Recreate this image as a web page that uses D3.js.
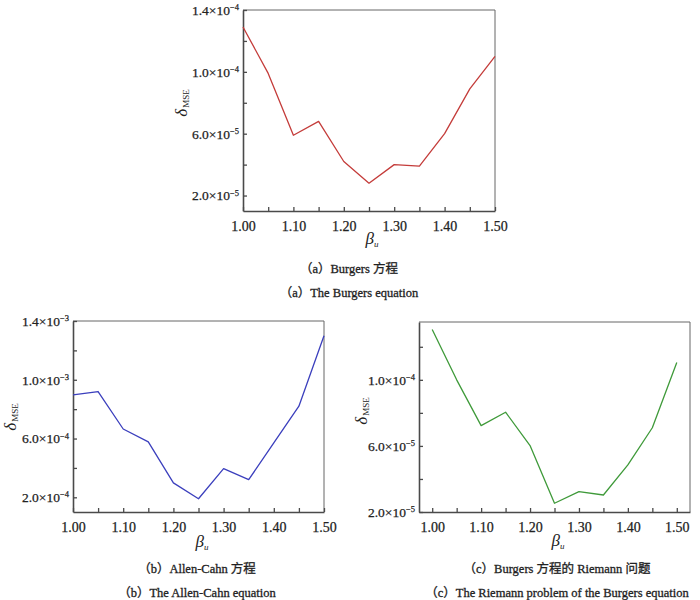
<!DOCTYPE html>
<html>
<head>
<meta charset="utf-8">
<script src="https://cdn.jsdelivr.net/npm/d3@7"></script>
<style>
  body { margin: 0; background: #fff; }
  svg text { font-family: "Liberation Serif", "Times New Roman", "DejaVu Serif", "Noto Sans CJK SC", serif; fill: #222; }
</style>
</head>
<body>
<div id="chart"></div>
<script>
// x values shared by all three panels
const betaU = [1.00, 1.05, 1.10, 1.15, 1.20, 1.25, 1.30, 1.35, 1.40, 1.45, 1.50];
const xMajorTicks = [1.00, 1.10, 1.20, 1.30, 1.40, 1.50];
const xAllTicks = [1.00, 1.05, 1.10, 1.15, 1.20, 1.25, 1.30, 1.35, 1.40, 1.45, 1.50];

// (a) Burgers
const mseBurgers = [1.29e-4, 0.99e-4, 5.9e-5, 6.8e-5, 4.2e-5, 2.8e-5, 4.0e-5, 3.9e-5, 6.0e-5, 8.9e-5, 1.10e-4];
const yMajorBurgers = [2e-5, 6e-5, 1e-4, 1.4e-4];
const yMinorBurgers = [4e-5, 8e-5, 1.2e-4];

// (b) Allen-Cahn
const mseAllenCahn = [8.97e-4, 9.2e-4, 6.65e-4, 5.77e-4, 2.98e-4, 1.9e-4, 3.95e-4, 3.2e-4, 5.7e-4, 8.2e-4, 1.30e-3];
const yMajorAllenCahn = [2e-4, 6e-4, 1e-3, 1.4e-3];
const yMinorAllenCahn = [4e-4, 8e-4, 1.2e-3];

// (c) Riemann problem of Burgers
const mseRiemann = [1.305e-4, 1.0e-4, 7.23e-5, 8.04e-5, 6.02e-5, 2.53e-5, 3.23e-5, 3.03e-5, 4.85e-5, 7.1e-5, 1.105e-4];
const yMajorRiemann = [2e-5, 6e-5, 1e-4];
const yMinorRiemann = [4e-5, 8e-5, 1.2e-4];

const svg = d3.select("#chart").append("svg")
  .attr("width", 700).attr("height", 600);

svg.append("rect").attr("width", 700).attr("height", 600).attr("fill", "#fff");

const panels = [
  { left: 243, right: 495, top: 10, bottom: 211,
    xDomain: [1.00, 1.50], yDomain: [1e-5, 1.4e-4],
    values: mseBurgers, yMajor: yMajorBurgers, yMinor: yMinorBurgers,
    color: "#c43c3a", yLabelX: 187, yLabelY: 103,
    xLabelX: 372, xLabelY: 244, capX: 349,
    cap1: "（a）Burgers 方程", cap2: "（a）The Burgers equation", capY: 273 },
  { left: 73, right: 324, top: 321, bottom: 512,
    xDomain: [1.00, 1.50], yDomain: [1e-4, 1.4e-3],
    values: mseAllenCahn, yMajor: yMajorAllenCahn, yMinor: yMinorAllenCahn,
    color: "#3b3fbd", yLabelX: 16, yLabelY: 417,
    xLabelX: 202, xLabelY: 547, capX: 197,
    cap1: "（b）Allen-Cahn 方程", cap2: "（b）The Allen-Cahn equation", capY: 573 },
  { left: 419, right: 690, top: 322, bottom: 512,
    xDomain: [0.973, 1.527], yDomain: [2e-5, 1.35e-4],
    values: mseRiemann, yMajor: yMajorRiemann, yMinor: yMinorRiemann,
    color: "#3f9a3a", yLabelX: 367, yLabelY: 411,
    xLabelX: 558, xLabelY: 546, capX: 557,
    cap1: "（c）Burgers 方程的 Riemann 问题", cap2: "（c）The Riemann problem of the Burgers equation", capY: 573 }
];

function sciParts(v) {
  const e = Math.floor(Math.log10(v) + 1e-9);
  const m = v / Math.pow(10, e);
  return { m: m.toFixed(1), e: e };
}

function drawPanel(p) {
  const g = svg.append("g");

  const x = d3.scaleLinear().domain(p.xDomain).range([p.left, p.right]);
  const y = d3.scaleLinear().domain(p.yDomain).range([p.bottom, p.top]);

  // frame top / right
  g.append("path")
    .attr("d", `M${p.left},${p.top}H${p.right}V${p.bottom}`)
    .attr("fill", "none").attr("stroke", "#666").attr("stroke-width", 1);

  // x axis, ticks inward
  const xAxis = g.append("g")
    .attr("transform", `translate(0,${p.bottom})`)
    .call(d3.axisBottom(x)
      .tickValues(xAllTicks)
      .tickSizeInner(-4).tickSizeOuter(0)
      .tickPadding(10)
      .tickFormat(d => xMajorTicks.some(t => Math.abs(t - d) < 1e-9) ? d.toFixed(2) : ""));

  // y axis, ticks inward
  const yTicks = p.yMajor.concat(p.yMinor);
  const yAxis = g.append("g")
    .attr("transform", `translate(${p.left},0)`)
    .call(d3.axisLeft(y)
      .tickValues(yTicks)
      .tickSizeInner(-4).tickSizeOuter(0)
      .tickPadding(4)
      .tickFormat(""));

  [xAxis, yAxis].forEach(a => {
    a.attr("font-family", null);
    a.select(".domain").attr("stroke", "#4a4a4a").attr("stroke-width", 1.6);
    a.selectAll(".tick line").attr("stroke", "#4a4a4a").attr("stroke-width", 1.3);
  });
  xAxis.selectAll(".tick text")
    .attr("font-size", 14).attr("fill", "#222")
    .attr("stroke", "#222").attr("stroke-width", 0.25);

  yAxis.selectAll(".tick text").each(function (d) {
    if (!p.yMajor.some(t => Math.abs(t - d) < 1e-12)) return;
    const s = sciParts(d);
    const t = d3.select(this)
      .attr("font-size", 13.5).attr("fill", "#222")
      .attr("stroke", "#222").attr("stroke-width", 0.25);
    t.text(null);
    t.append("tspan").text(s.m + "×10");
    t.append("tspan").attr("dy", "-0.55em").attr("font-size", 8.5).text("−" + Math.abs(s.e));
  });

  // line
  const line = d3.line()
    .x((d, i) => x(betaU[i]))
    .y(d => y(d));

  g.append("path")
    .datum(p.values)
    .attr("fill", "none")
    .attr("stroke", p.color)
    .attr("stroke-width", 1.3)
    .attr("stroke-linejoin", "round")
    .attr("d", line);

  // y label: δ_MSE
  const yl = g.append("text")
    .attr("transform", `translate(${p.yLabelX},${p.yLabelY}) rotate(-90)`)
    .attr("text-anchor", "middle");
  yl.append("tspan").attr("font-style", "italic").attr("font-size", 17).text("δ");
  yl.append("tspan").attr("font-size", 9).attr("dy", "0.25em").attr("dx", 1).text("MSE");

  // x label: β_u
  const xl = g.append("text")
    .attr("x", p.xLabelX).attr("y", p.xLabelY)
    .attr("text-anchor", "middle");
  xl.append("tspan").attr("font-style", "italic").attr("font-size", 17).text("β");
  xl.append("tspan").attr("font-style", "italic").attr("font-size", 9).attr("dy", "0.3em").text("u");

  // captions
  [p.cap1, p.cap2].forEach((c, i) => {
    g.append("text")
      .attr("x", p.capX).attr("y", p.capY + i * 24)
      .attr("text-anchor", "middle").attr("font-size", 12.5)
      .attr("stroke", "#222").attr("stroke-width", 0.3)
      .text(c);
  });
}

panels.forEach(drawPanel);
</script>
</body>
</html>
